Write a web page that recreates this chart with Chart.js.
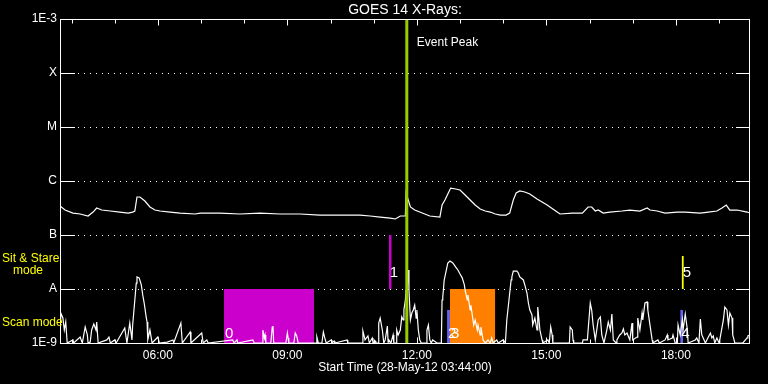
<!DOCTYPE html>
<html>
<head>
<meta charset="utf-8">
<script src="https://cdn.jsdelivr.net/npm/chart.js@4/dist/chart.umd.min.js"></script>
<style>
  html, body { margin: 0; padding: 0; background: #000; }
  canvas { display: block; }
</style>
</head>
<body>
<canvas id="goesChart" width="768" height="384"></canvas>
<script>
// time axis: minutes after start time 28-May-12 03:44:00
const timeMax = 959;
const xTickValues = [136, 316, 496, 676, 856];
const xTickLabels = ["06:00", "09:00", "12:00", "15:00", "18:00"];
const firstHourTick = 16; // 04:00

const yTickValues = [1e-9, 1e-8, 1e-7, 1e-6, 1e-5, 1e-4, 1e-3];
const yTickLabels = ["1E-9", "A", "B", "C", "M", "X", "1E-3"];

// long channel (1-8 A) [minute, W/m^2]
const longChannel = [
  [0,3.44e-7],[7,2.90e-7],[18,2.55e-7],[28,2.45e-7],[39,2.25e-7],[46,2.66e-7],[51,3.16e-7],[58,2.90e-7],
  [70,2.78e-7],[83,2.66e-7],[95,2.55e-7],[101,2.66e-7],[104,2.78e-7],[107,5.05e-7],[111,5.05e-7],[118,4.26e-7],
  [125,3.30e-7],[132,2.90e-7],[139,2.78e-7],[153,2.66e-7],[167,2.55e-7],[188,2.45e-7],[195,2.55e-7],[222,2.55e-7],
  [250,2.45e-7],[278,2.55e-7],[306,2.45e-7],[334,2.45e-7],[361,2.34e-7],[389,2.34e-7],[417,2.34e-7],[431,2.25e-7],
  [445,2.15e-7],[459,2.06e-7],[466,1.98e-7],[473,2.25e-7],[480,2.25e-7],[481,6.0e-7],[487,3.30e-7],[493,2.90e-7],
  [500,2.66e-7],[507,2.45e-7],[514,2.25e-7],[528,2.15e-7],[531,3.59e-7],[535,4.45e-7],[539,5.75e-7],[543,7.4e-7],
  [550,7.1e-7],[556,6.81e-7],[563,5.5e-7],[570,4.45e-7],[577,3.59e-7],[584,3.03e-7],[591,2.78e-7],[598,2.66e-7],
  [605,2.45e-7],[612,2.34e-7],[620,2.34e-7],[625,2.55e-7],[630,4.45e-7],[634,6.0e-7],[639,6.53e-7],[646,6.26e-7],
  [653,5.75e-7],[663,4.64e-7],[677,3.59e-7],[685,3.03e-7],[691,2.66e-7],[695,2.45e-7],[712,2.55e-7],[726,2.55e-7],
  [734,3.30e-7],[739,3.30e-7],[744,2.78e-7],[748,2.90e-7],[755,2.55e-7],[764,2.66e-7],[781,2.78e-7],[792,2.90e-7],
  [806,2.78e-7],[816,3.16e-7],[820,2.90e-7],[830,2.78e-7],[841,2.55e-7],[858,2.66e-7],[869,2.66e-7],[890,2.55e-7],
  [901,2.66e-7],[913,2.78e-7],[920,3.16e-7],[926,3.59e-7],[931,2.90e-7],[941,2.90e-7],[955,2.66e-7],[959,2.55e-7]
];

// short channel (0.5-4 A) [minute, W/m^2]
const shortChannel = [
  [0,2.67e-9],[1,3.59e-9],[4,2.90e-9],[6,1.74e-9],[8,2.45e-9],[10,1e-9],[18,1.14e-9],[19,1e-9],[28,1.29e-9],
  [31,1e-9],[35,1.98e-9],[38,1.41e-9],[39,1e-9],[42,1.04e-9],[44,1.74e-9],[47,2.25e-9],[50,1.74e-9],[51,2.45e-9],
  [53,1e-9],[65,1.14e-9],[68,1.29e-9],[70,1e-9],[76,1.14e-9],[78,1e-9],[90,1.90e-9],[93,1e-9],[97,2.34e-9],
  [100,1.14e-9],[101,2.15e-9],[104,6.25e-9],[106,1.29e-8],[107,1.67e-8],[110,1.61e-8],[113,1.19e-8],[115,7.74e-9],
  [117,5.50e-9],[120,2.90e-9],[121,2.45e-9],[122,1.14e-9],[125,1.74e-9],[128,1e-9],[136,1.29e-9],[138,1e-9],
  [149,1.04e-9],[157,1.14e-9],[158,1e-9],[168,2.34e-9],[170,1e-9],[181,1.60e-9],[182,1e-9],[197,1.53e-9],[199,1e-9],
  [204,1.14e-9],[206,1e-9],[240,1.14e-9],[242,1e-9],[246,1.14e-9],[247,1e-9],[268,1.14e-9],[270,1e-9],[281,1e-9],
  [282,1.74e-9],[284,1.24e-9],[285,1.41e-9],[286,1e-9],[293,1e-9],[295,1.98e-9],[296,2.06e-9],[297,1e-9],[314,1e-9],
  [316,1.53e-9],[317,1.24e-9],[318,1e-9],[325,1e-9],[327,1.53e-9],[329,1.35e-9],[331,1e-9],[356,1e-9],[357,1.29e-9],
  [359,1e-9],[364,1e-9],[366,1.60e-9],[368,1.24e-9],[370,1e-9],[377,1.14e-9],[378,1e-9],[381,1.09e-9],[382,1e-9],
  [399,1.14e-9],[400,1e-9],[420,1e-9],[421,1.67e-9],[424,1.14e-9],[428,1.35e-9],[430,1e-9],[434,1.24e-9],[435,1e-9],
  [438,1.09e-9],[439,1e-9],[442,1e-9],[443,2.34e-9],[445,2.90e-9],[448,1.74e-9],[450,1e-9],[452,1.14e-9],[455,2.06e-9],
  [456,1.04e-9],[457,1.14e-9],[460,1e-9],[463,1.41e-9],[464,1e-9],[467,1e-9],[468,1.74e-9],[470,1.41e-9],[473,1.74e-9],
  [475,3.03e-9],[477,2.67e-9],[478,4.08e-9],[480,6.25e-9],[481,9.57e-9],[482,1.47e-8],[484,2.25e-8],[485,9.57e-9],
  [487,2.67e-9],[489,3.59e-9],[491,4.08e-9],[493,5.05e-9],[495,2.90e-9],[496,4.08e-9],[498,1.74e-9],[500,1.14e-9],
  [502,1e-9],[509,1e-9],[510,1.74e-9],[512,2.15e-9],[514,1.14e-9],[516,1e-9],[518,1.14e-9],[524,1e-9],[530,1e-9],
  [531,6.25e-9],[532,7.10e-9],[534,1.47e-8],[537,2.25e-8],[539,3.03e-8],[542,3.30e-8],[546,3.03e-8],[550,2.55e-8],
  [553,2.25e-8],[556,1.89e-8],[559,1.61e-8],[562,1.19e-8],[563,9.57e-9],[566,6.25e-9],[567,7.74e-9],[570,4.08e-9],
  [571,5.05e-9],[573,3.30e-9],[575,2.15e-9],[577,2.67e-9],[580,1.74e-9],[581,2.15e-9],[584,1.41e-9],[585,1.98e-9],
  [588,1.14e-9],[591,1e-9],[595,1.14e-9],[598,1e-9],[600,1.24e-9],[602,1e-9],[607,1.14e-9],[609,1e-9],[616,1.14e-9],
  [619,1e-9],[621,2.67e-9],[624,6.25e-9],[627,1.47e-8],[628,1.67e-8],[630,2.15e-8],[635,2.15e-8],[637,1.98e-8],
  [639,1.67e-8],[644,1.47e-8],[646,1.19e-8],[649,8.43e-9],[651,5.50e-9],[653,4.08e-9],[656,3.30e-9],[657,2.15e-9],
  [660,2.90e-9],[663,1.74e-9],[664,4.64e-9],[667,1.74e-9],[670,1.14e-9],[671,1e-9],[678,1.14e-9],[680,1e-9],
  [681,1e-9],[682,1.98e-9],[684,1.41e-9],[685,1e-9],[708,1e-9],[709,1.98e-9],[712,1.74e-9],[713,1.14e-9],[714,1e-9],
  [726,1e-9],[727,1.14e-9],[733,1.14e-9],[734,1.74e-9],[737,5.50e-9],[739,4.08e-9],[741,2.15e-9],[744,1.14e-9],
  [746,1.74e-9],[748,2.67e-9],[751,3.03e-9],[753,1.41e-9],[756,1e-9],[760,1.74e-9],[762,2.45e-9],[765,1.74e-9],
  [767,3.44e-9],[769,1.14e-9],[773,1e-9],[774,1.14e-9],[778,1.41e-9],[781,1.53e-9],[783,1.82e-9],[785,1.41e-9],
  [788,1.53e-9],[792,1.14e-9],[795,2.34e-9],[796,1.14e-9],[802,1.29e-9],[803,2.90e-9],[806,1.74e-9],[809,3.59e-9],
  [810,2.67e-9],[813,5.50e-9],[816,5.75e-9],[817,4.08e-9],[820,2.15e-9],[823,1.14e-9],[824,1e-9],[831,1.14e-9],
  [833,1e-9],[841,1.14e-9],[844,1.41e-9],[845,1.14e-9],[851,1.24e-9],[852,1.41e-9],[855,1e-9],[858,1e-9],[859,2.15e-9],
  [862,1.41e-9],[865,2.67e-9],[866,1.74e-9],[869,3.44e-9],[872,1.74e-9],[873,1e-9],[883,1.14e-9],[885,1.24e-9],
  [888,1e-9],[890,2.78e-9],[892,1.41e-9],[894,1.24e-9],[897,1e-9],[899,1.14e-9],[904,1.53e-9],[906,1.24e-9],
  [908,1.35e-9],[910,1e-9],[913,1.24e-9],[916,1e-9],[917,1.14e-9],[922,2.67e-9],[924,4.64e-9],[927,4.08e-9],
  [929,2.15e-9],[931,3.59e-9],[934,2.90e-9],[935,1.41e-9],[938,1e-9],[949,1e-9],[955,1.24e-9],[956,1.35e-9],[959,1.41e-9]
];

// observing modes
const modeLabels = ["0", "1", "2", "3", "4", "5"];
const modeStart = [228, 457, 538, 542, 862, 864];
const modeEnd = [353, 461, 542, 605, 866, 867];
const modeTop = [1e-8, 1e-7, 4.1e-9, 1e-8, 4.1e-9, 4.1e-8];
const modeBottom = [1e-9, 1e-8, 1e-9, 1e-9, 1e-9, 1e-8];
const modeColors = ["#cc00cc", "#cc00cc", "#6464f0", "#ff8000", "#6464f0", "#ffff00"];
const modeLabelFlux = [1.5e-9, 1.98e-8, 1.5e-9, 1.5e-9, 1.5e-9, 1.98e-8];

const eventPeak = 482;

const FONT = "Liberation Sans";

const modeSets = modeLabels.map((m, i) => ({
    label: "mode " + m,
    data: [{ x: modeStart[i], y: modeTop[i] }, { x: modeEnd[i], y: modeTop[i] }],
    borderColor: "transparent",
    borderWidth: 0,
    backgroundColor: modeColors[i],
    fill: { value: modeBottom[i] },
    pointRadius: 0,
    order: 3
}));

// frame, ticks, dotted level lines and annotations
const goesDecor = {
    id: "goesDecor",
    beforeDatasetsDraw(chart) {
        const { ctx, chartArea: a, scales: { x, y } } = chart;
        const l = Math.round(a.left), r = Math.round(a.right) - 1;
        const T = Math.round(a.top) + 0.5, B = Math.round(a.bottom) + 0.5;
        ctx.save();
        ctx.strokeStyle = "#fff";
        ctx.fillStyle = "#fff";
        ctx.lineWidth = 1;
        yTickValues.slice(1, -1).forEach(v => {
            const py = Math.round(y.getPixelForValue(v));
            ctx.fillRect(l, py, 15, 1);
            ctx.fillRect(r - 13, py, 14, 1);
            for (let dx = l + 18; dx < r - 14; dx += 6) ctx.fillRect(dx, py, 1, 1);
        });
        for (let m = firstHourTick; m < timeMax; m += 60) {
            const px = Math.round(x.getPixelForValue(m)) + 0.5;
            const len = xTickValues.includes(m) ? 6 : 4;
            ctx.beginPath();
            ctx.moveTo(px, T); ctx.lineTo(px, T + len);
            ctx.moveTo(px, B); ctx.lineTo(px, B - len);
            ctx.stroke();
        }
        ctx.restore();
    },
    afterDatasetsDraw(chart) {
        const { ctx, chartArea: a, scales: { x, y } } = chart;
        const L = Math.round(a.left) + 0.5, R = Math.round(a.right) - 0.5;
        const T = Math.round(a.top) + 0.5, B = Math.round(a.bottom) + 0.5;
        ctx.save();
        ctx.strokeStyle = "#fff";
        ctx.lineWidth = 1;
        ctx.strokeRect(L, T, R - L, B - T);

        ctx.fillStyle = "#fff";
        ctx.textBaseline = "middle";
        ctx.textAlign = "left";
        ctx.font = "15px '" + FONT + "'";
        modeLabels.forEach((m, i) => {
            ctx.fillText(m, x.getPixelForValue(modeStart[i]) + 1, y.getPixelForValue(modeLabelFlux[i]));
        });
        ctx.font = "12px '" + FONT + "'";
        ctx.fillText("Event Peak", x.getPixelForValue(eventPeak) + 10, a.top + 24);

        ctx.fillStyle = "#ffff00";
        ctx.font = "12px '" + FONT + "'";
        ctx.fillText("Sit & Stare", 2, 259);
        ctx.fillText("mode", 13, 271);
        ctx.fillText("Scan mode", 2, 323);
        ctx.restore();
    }
};

new Chart(document.getElementById("goesChart"), {
    type: "line",
    data: {
        datasets: [
            {
                label: "Event Peak",
                data: [{ x: eventPeak, y: 1e-9 }, { x: eventPeak, y: 1e-3 }],
                borderColor: "#99cc00",
                borderWidth: 3,
                pointRadius: 0,
                order: 0
            },
            {
                label: "1-8 A",
                data: longChannel.map(p => ({ x: p[0], y: p[1] })),
                borderColor: "#fff",
                borderWidth: 1.2,
                pointRadius: 0,
                tension: 0,
                order: 1
            },
            {
                label: "0.5-4 A",
                data: shortChannel.map(p => ({ x: p[0], y: p[1] })),
                borderColor: "#fff",
                borderWidth: 1.2,
                pointRadius: 0,
                tension: 0,
                order: 2
            },
            ...modeSets
        ]
    },
    options: {
        responsive: false,
        animation: false,
        devicePixelRatio: 1,
        layout: { padding: { top: 0, right: 18, left: 0, bottom: 0 } },
        plugins: {
            legend: { display: false },
            tooltip: { enabled: false },
            title: {
                display: true,
                text: "GOES 14 X-Rays:",
                color: "#fff",
                fullSize: false,
                font: { family: FONT, size: 14, weight: "normal", lineHeight: 1.2 },
                padding: { top: 2.2, bottom: 0 }
            }
        },
        scales: {
            x: {
                type: "linear",
                min: 0,
                max: timeMax,
                afterBuildTicks: axis => { axis.ticks = xTickValues.map(v => ({ value: v })); },
                afterFit: axis => { axis.height = 41; },
                ticks: {
                    callback: (v, i) => xTickLabels[i],
                    color: "#fff",
                    font: { family: FONT, size: 12 },
                    padding: 5,
                    maxRotation: 0,
                    autoSkip: false
                },
                grid: { display: false, drawTicks: false },
                border: { display: false },
                title: {
                    display: true,
                    text: "Start Time (28-May-12 03:44:00)",
                    color: "#fff",
                    font: { family: FONT, size: 12 },
                    padding: { top: 0, bottom: 9 }
                }
            },
            y: {
                type: "logarithmic",
                min: 1e-9,
                max: 1e-3,
                afterBuildTicks: axis => { axis.ticks = yTickValues.map(v => ({ value: v })); },
                afterFit: axis => { axis.width = 60; },
                ticks: {
                    callback: (v, i) => yTickLabels[i],
                    color: "#fff",
                    font: { family: FONT, size: 12 },
                    padding: 3,
                    autoSkip: false
                },
                grid: { display: false, drawTicks: false },
                border: { display: false }
            }
        }
    },
    plugins: [goesDecor]
});
</script>
</body>
</html>
